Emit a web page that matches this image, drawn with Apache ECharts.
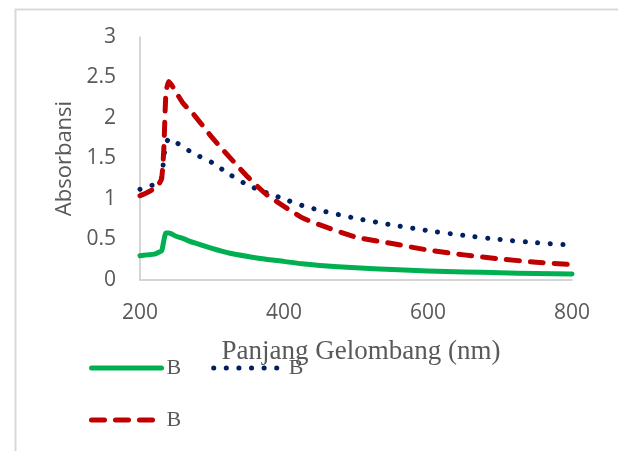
<!DOCTYPE html>
<html>
<head>
<meta charset="utf-8">
<script src="https://cdn.jsdelivr.net/npm/echarts@6/dist/echarts.min.js"></script>
<style>
html,body{margin:0;padding:0;background:#fff;}
#chart{width:618px;height:451px;}
</style>
</head>
<body>
<div id="chart"></div>
<script>
const wavelengths = [200, 210, 220, 225, 230, 233, 236, 240, 250, 260, 275, 300, 325, 350, 375, 400, 425, 450, 500, 550, 600, 650, 700, 750, 800];
const greenValues = [0.30, 0.31, 0.32, 0.34, 0.36, 0.48, 0.58, 0.58, 0.54, 0.51, 0.46, 0.39, 0.33, 0.29, 0.255, 0.23, 0.20, 0.18, 0.15, 0.13, 0.11, 0.10, 0.09, 0.08, 0.075];
const blueValues = [1.12, 1.15, 1.18, 1.21, 1.26, 1.50, 1.68, 1.74, 1.70, 1.64, 1.56, 1.45, 1.30, 1.17, 1.08, 1.00, 0.92, 0.86, 0.76, 0.68, 0.61, 0.55, 0.50, 0.46, 0.43];
const redValues = [1.04, 1.08, 1.13, 1.17, 1.25, 1.60, 2.30, 2.45, 2.32, 2.18, 2.04, 1.76, 1.51, 1.27, 1.06, 0.91, 0.77, 0.68, 0.53, 0.45, 0.37, 0.31, 0.26, 0.22, 0.19];
const seriesNames = ['B1', 'B2', 'B3'];
const legendLabel = 'B';
const xAxisTitle = 'Panjang Gelombang (nm)';
const yAxisTitle = 'Absorbansi';

function pairs(vals) { return wavelengths.map((w, i) => [w, vals[i]]); }

const chart = echarts.init(document.getElementById('chart'), null, {renderer: 'canvas'});
const tickFont = {color: '#595959', fontSize: 21, fontFamily: 'Open Sans'};
const legendCommon = {
  orient: 'horizontal', left: 84,
  itemWidth: 70, itemHeight: 16, itemGap: 30,
  formatter: () => legendLabel,
  itemStyle: {opacity: 0},
  lineStyle: {width: 5, cap: 'round'},
  textStyle: {color: '#595959', fontSize: 22, fontFamily: 'Liberation Serif'},
  selectedMode: false
};
chart.setOption({
  animation: false,
  graphic: [{
    type: 'rect', left: 13, top: 7, silent: true,
    shape: {width: 640, height: 470},
    style: {fill: 'none', stroke: '#d9d9d9', lineWidth: 2}
  }],
  grid: {left: 140, right: 46, top: 37, bottom: 171, outerBoundsMode: 'none'},
  legend: [
    Object.assign({}, legendCommon, {data: [seriesNames[0], seriesNames[1]], top: 352}),
    Object.assign({}, legendCommon, {data: [seriesNames[2]], top: 404})
  ],
  xAxis: {
    type: 'value', min: 200, max: 800, interval: 200,
    name: xAxisTitle, nameLocation: 'middle', nameGap: 58,
    nameTextStyle: {color: '#595959', fontSize: 27, fontFamily: 'Liberation Serif', padding: [0,0,0,10]},
    axisLine: {show: true, lineStyle: {color: '#c8c8c8', width: 1.5}},
    axisTick: {show: false},
    splitLine: {show: false},
    axisLabel: Object.assign({margin: 23}, tickFont)
  },
  yAxis: {
    type: 'value', min: 0, max: 3, interval: 0.5,
    name: yAxisTitle, nameLocation: 'middle', nameGap: 62,
    nameTextStyle: {color: '#595959', fontSize: 22, fontFamily: 'Open Sans'},
    axisLine: {show: true, lineStyle: {color: '#c8c8c8', width: 1.5}},
    axisTick: {show: false},
    splitLine: {show: false},
    axisLabel: Object.assign({margin: 24}, tickFont)
  },
  series: [{
    name: seriesNames[0], type: 'line', data: pairs(greenValues),
    showSymbol: false, symbol: 'none', smooth: 0.2,
    lineStyle: {color: '#00b050', width: 5, cap: 'round', join: 'round'},
    itemStyle: {color: '#00b050'}
  }, {
    name: seriesNames[1], type: 'line', data: pairs(blueValues),
    showSymbol: false, symbol: 'none', smooth: 0.2,
    lineStyle: {color: '#002060', width: 5, type: [0.1, 12.5], cap: 'round', join: 'round'},
    itemStyle: {color: '#002060'}
  }, {
    name: seriesNames[2], type: 'line', data: pairs(redValues),
    showSymbol: false, symbol: 'none', smooth: 0.2,
    lineStyle: {color: '#c00000', width: 5, type: [13, 11], cap: 'round', join: 'round'},
    itemStyle: {color: '#c00000'}
  }]
});
</script>
</body>
</html>
